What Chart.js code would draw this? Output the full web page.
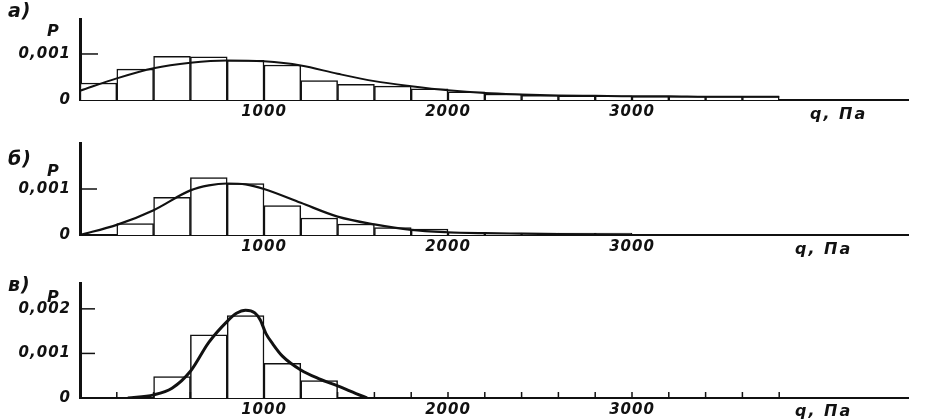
<!DOCTYPE html>
<html>
<head>
<meta charset="utf-8">
<script src="https://cdn.jsdelivr.net/npm/chart.js@4.4.0/dist/chart.umd.min.js"></script>
<style>
  body { margin:0; background:#fff; width:951px; height:419px; position:relative; overflow:hidden;
         font: italic bold 16px "DejaVu Sans", sans-serif; color:#111; letter-spacing:2px; }
  .panel { position:absolute; left:0; width:951px; }
  .lbl { position:absolute; white-space:nowrap; line-height:1; }
  .tag { font-size:19px; letter-spacing:1px; }
</style>
</head>
<body>
<div class="panel" style="top:0;height:125px"><canvas id="chartA"></canvas></div>
<div class="panel" style="top:125px;height:135px"><canvas id="chartB"></canvas></div>
<div class="panel" style="top:260px;height:159px"><canvas id="chartC"></canvas></div>

<div class="lbl tag" style="left:8px;top:1px">а)</div>
<div class="lbl" style="left:47px;top:23px">P</div>
<div class="lbl" style="left:810px;top:106px">q, Па</div>

<div class="lbl tag" style="left:8px;top:149px">б)</div>
<div class="lbl" style="left:47px;top:163px">P</div>
<div class="lbl" style="left:795px;top:241px">q, Па</div>

<div class="lbl tag" style="left:8px;top:275px">в)</div>
<div class="lbl" style="left:47px;top:289px">P</div>
<div class="lbl" style="left:795px;top:403px">q, Па</div>

<script>
const ink = '#111';
const binWidth = 200; // Па

// histogram bins (start of each bin, Па)
const binsA = [0,200,400,600,800,1000,1200,1400,1600,1800,2000,2200,2400,2600,2800,3000,3200,3400,3600];
const barsA = [0.00037,0.00067,0.00095,0.00094,0.00086,0.00076,0.00042,0.00034,0.0003,0.00024,0.00018,0.00013,0.0001,0.00009,0.00009,0.00008,0.00008,0.00008,0.00008];
const curveXA = [0,200,400,600,800,1000,1200,1400,1600,1800,2000,2200,2400,2600,2800,3000,3200,3400,3600,3800];
const curveYA = [0.0002,0.00047,0.00069,0.00081,0.00086,0.00084,0.00075,0.00057,0.00041,0.0003,0.00021,0.00015,0.00012,0.0001,0.00009,0.00008,0.00008,0.00007,0.00007,0.00007];

const binsB = [200,400,600,800,1000,1200,1400,1600,1800,2000,2200,2400,2600,2800];
const barsB = [0.00025,0.00082,0.00125,0.00112,0.00064,0.00037,0.00024,0.00016,0.00013,0.00006,0.00004,0.00004,0.00004,0.00004];
const curveXB = [0,200,400,600,700,800,900,1000,1200,1400,1600,1800,2000,2200,2400,2600,2800,3000];
const curveYB = [0,0.00022,0.00054,0.00097,0.00108,0.00112,0.0011,0.001,0.0007,0.0004,0.00023,0.00011,0.00006,0.00004,0.00003,0.00002,0.00001,0];

const binsC = [400,600,800,1000,1200];
const barsC = [0.00048,0.00142,0.00185,0.00078,0.00039];
const curveXC = [260,400,500,600,700,800,850,900,950,980,1010,1050,1100,1200,1300,1400,1500,1560];
const curveYC = [0,0.00007,0.00022,0.0006,0.00125,0.00172,0.0019,0.00197,0.00191,0.00175,0.00145,0.0012,0.00094,0.00063,0.00043,0.00027,0.0001,0];
const minorTicksC = [200,400,600,800,1000,1200,1400,1600,1800,2000,2200,2400,2600,2800,3000,3200,3400,3600,3800];

const xTicks = [1000, 2000, 3000];
const xTickLabels = ['1000', '2000', '3000'];
const yTicksAB = [0, 0.001];
const yTickLabelsAB = ['0', '0,001'];
const yTicksC = [0, 0.001, 0.002];
const yTickLabelsC = ['0', '0,001', '0,002'];

const tickFont = { family: 'DejaVu Sans', size: 15, style: 'italic', weight: 'bold' };

const innerTicks = {
  id: 'innerTicks',
  beforeDraw(chart) { chart.ctx.letterSpacing = '1px'; },
  afterDatasetsDraw(chart, args, opts) {
    const { ctx, chartArea, scales: { x, y } } = chart;
    ctx.save();
    ctx.strokeStyle = ink;
    ctx.lineWidth = 1.5;
    opts.yMarks.forEach(v => {
      if (!v) return;
      const py = y.getPixelForValue(v);
      ctx.beginPath(); ctx.moveTo(chartArea.left, py); ctx.lineTo(chartArea.left + opts.yLen, py); ctx.stroke();
    });
    (opts.xMarks || []).forEach(v => {
      const px = x.getPixelForValue(v);
      ctx.beginPath(); ctx.moveTo(px, chartArea.bottom); ctx.lineTo(px, chartArea.bottom - 6); ctx.stroke();
    });
    ctx.restore();
  }
};

function makePanel(id, p) {
  new Chart(document.getElementById(id), {
    type: 'bar',
    data: {
      datasets: [
        { type: 'line', data: p.cx.map((v, i) => ({ x: v, y: p.cy[i] })), borderColor: ink,
          borderWidth: p.lw, pointRadius: 0, cubicInterpolationMode: 'monotone', order: 0 },
        { type: 'bar', data: p.bins.map((b, i) => ({ x: b + binWidth / 2, y: p.bars[i] })),
          backgroundColor: '#fff', borderColor: ink, borderWidth: 1.5,
          barPercentage: 1, categoryPercentage: 1, order: 1 }
      ]
    },
    options: {
      responsive: true, maintainAspectRatio: false, animation: false,
      layout: { padding: { top: p.top, right: 43, left: 0, bottom: 0 } },
      plugins: { legend: { display: false }, tooltip: { enabled: false },
                 innerTicks: { yMarks: p.yTicks, yLen: p.tickLen, xMarks: p.minor } },
      scales: {
        x: { type: 'linear', min: 0, max: 4500, offset: false,
             grid: { display: false, drawTicks: false }, border: { display: true, color: ink, width: 2 },
             afterBuildTicks: s => { s.ticks = xTicks.map(v => ({ value: v })); },
             afterFit: s => { s.height = p.xh; },
             ticks: { color: ink, font: tickFont, padding: 3, maxRotation: 0,
                      callback: (v) => xTickLabels[xTicks.indexOf(v)] } },
        y: { min: 0, max: p.ymax,
             grid: { display: false, drawTicks: false }, border: { display: true, color: ink, width: 3 },
             afterBuildTicks: s => { s.ticks = p.yTicks.map(v => ({ value: v })); },
             afterFit: s => { s.width = 80; },
             ticks: { color: ink, font: tickFont, padding: 9,
                      callback: (v) => p.yLabels[p.yTicks.indexOf(v)] } }
      }
    },
    plugins: [innerTicks]
  });
}

makePanel('chartA', { bins: binsA, bars: barsA, cx: curveXA, cy: curveYA, lw: 2,
  ymax: 0.00176, yTicks: yTicksAB, yLabels: yTickLabelsAB, tickLen: 18, top: 19, xh: 25 });
makePanel('chartB', { bins: binsB, bars: barsB, cx: curveXB, cy: curveYB, lw: 2.2,
  ymax: 0.002, yTicks: yTicksAB, yLabels: yTickLabelsAB, tickLen: 17, top: 18, xh: 25 });
makePanel('chartC', { bins: binsC, bars: barsC, cx: curveXC, cy: curveYC, lw: 3,
  ymax: 0.00258, yTicks: yTicksC, yLabels: yTickLabelsC, tickLen: 15, top: 23, xh: 21,
  minor: minorTicksC });
</script>
</body>
</html>
